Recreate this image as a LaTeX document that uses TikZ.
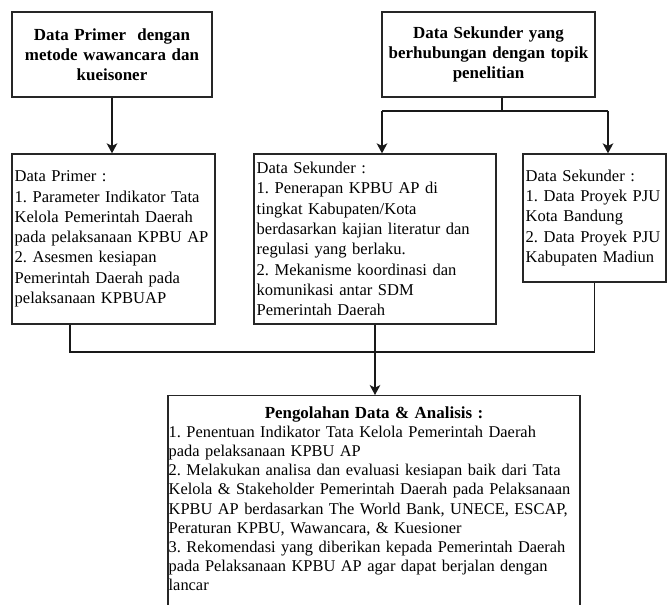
\documentclass[tikz,border=0pt]{standalone}
\usepackage{fontspec}
\setmainfont{Liberation Serif}
\frenchspacing
\usetikzlibrary{
  arrows.meta,                        % for arrow tips
  positioning,
  calc                                % for ($$)
}
\tikzstyle{databox} = [rectangle, draw=black!85, line width=1pt, inner xsep=2pt, inner ysep=0pt]
\tikzstyle{sourcebox}=[databox, align=center, font=\fontsize{12.7}{15}\selectfont\bfseries]
\tikzstyle{listbox}=[databox, align=left, font=\fontsize{12.4}{15.2}\selectfont]
\tikzstyle{flowline}=[line width=0.9pt, draw=black!90]
\tikzstyle{flowarrow}=[flowline, -{Stealth[length=7.5pt,width=8pt,inset=2pt]}]

\begin{document}
\begin{tikzpicture}[x=0.75pt,y=-0.75pt]
\useasboundingbox (0,0) rectangle (668,605);
  % sources of the data
\node[sourcebox, minimum width=150pt, minimum height=63.75pt, text width=146pt](primer) at (112,54.5) {Data Primer~ dengan\\ metode wawancara dan\\ kueisoner};
\node[sourcebox, minimum width=159.75pt, minimum height=63.75pt, text width=155pt](sekunder) at (488.5,54.5) {Data Sekunder yang\\ berhubungan dengan topik\\ penelitian};

  % the collected data
\node[listbox, minimum width=152.25pt, minimum height=127.5pt, text width=148.25pt](dataprimer) at (113.5,239) {Data Primer :\\ 1. Parameter Indikator Tata\\ Kelola Pemerintah Daerah\\ pada pelaksanaan KPBU AP\\ 2. Asesmen kesiapan\\ Pemerintah Daerah pada\\ pelaksanaan KPBUAP};
\node[listbox, minimum width=181.5pt, minimum height=127.5pt, text width=177.5pt](datasekunder) at (375,239) {Data Sekunder :\\ 1. Penerapan KPBU AP di\\ tingkat Kabupaten/Kota\\ berdasarkan kajian literatur dan\\ regulasi yang berlaku.\\ 2. Mekanisme koordinasi dan\\ komunikasi antar SDM\\ Pemerintah Daerah};
\node[listbox, minimum width=107.25pt, minimum height=96pt, text width=103.25pt](datapju) at (594.5,218) {Data Sekunder :\\ 1. Data Proyek PJU\\ Kota Bandung\\ 2. Data Proyek PJU\\ Kabupaten Madiun};

  % processing, runs off the bottom of the page
\node[databox, anchor=north, minimum width=309pt, text width=308pt, align=left, inner xsep=0.5pt, inner ysep=8pt, font=\fontsize{12.3}{14.4}\selectfont](olahdata) at (374,395) {\makebox[\linewidth]{\fontsize{12.7}{15}\selectfont\bfseries Pengolahan Data \& Analisis :}\\ 1. Penentuan Indikator Tata Kelola Pemerintah Daerah\\ pada pelaksanaan KPBU AP\\ 2. Melakukan analisa dan evaluasi kesiapan baik dari Tata\\ Kelola \& Stakeholder Pemerintah Daerah pada Pelaksanaan\\ KPBU AP berdasarkan The World Bank, UNECE, ESCAP,\\ Peraturan KPBU, Wawancara, \& Kuesioner\\ 3. Rekomendasi yang diberikan kepada Pemerintah Daerah\\ pada Pelaksanaan KPBU AP agar dapat berjalan dengan\\ lancar\rule[-30pt]{0pt}{0pt}};

  % connectors
\coordinate (splitsek) at (502,111);
\coordinate (splitkiri) at (382,111);
\coordinate (splitkanan) at (608,111);
\coordinate (gabungkiri) at (70,352);
\draw[flowarrow] (primer.south) -- (primer.south |- dataprimer.north);
\draw[flowline] (splitsek |- sekunder.south) -- (splitsek);
\draw[flowline] (splitkiri) -- (splitkanan);
\draw[flowarrow] (splitkiri) -- (splitkiri |- datasekunder.north);
\draw[flowarrow] (splitkanan) -- (splitkanan |- datapju.north);
\draw[flowline] (gabungkiri |- dataprimer.south) -- (gabungkiri) -| (datapju.south);
\draw[flowarrow] (datasekunder.south) -- (datasekunder.south |- olahdata.north);
\end{tikzpicture}
\end{document}
